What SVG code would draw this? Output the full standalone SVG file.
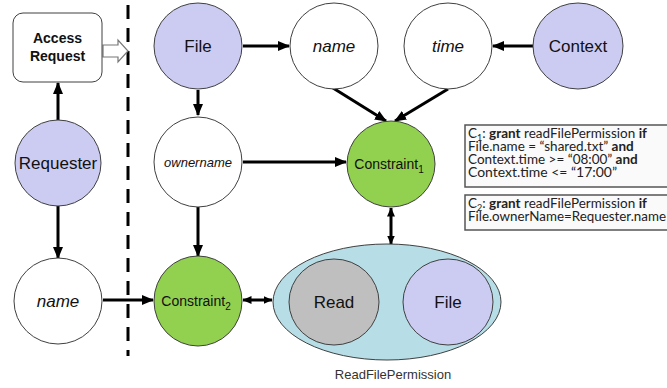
<svg xmlns="http://www.w3.org/2000/svg" width="667" height="388" viewBox="0 0 667 388">
<defs>
<marker id="ah" markerUnits="userSpaceOnUse" markerWidth="12" markerHeight="12" viewBox="0 0 12 12" refX="11" refY="6" orient="auto-start-reverse">
<path d="M0,1 L12,6 L0,11 Z" fill="#000"/>
</marker>
<marker id="ahs" markerUnits="userSpaceOnUse" markerWidth="9" markerHeight="9" viewBox="0 0 9 9" refX="8.5" refY="4.5" orient="auto-start-reverse">
<path d="M0,0.5 L9,4.5 L0,8.5 Z" fill="#000"/>
</marker>
<style>
.n{stroke:#404040;stroke-width:1}
.w{fill:#fff}
.lav{fill:#ccccf2}
.grn{fill:#92d050}
.gry{fill:#bfbfbf}
.tl{font-family:"Liberation Sans",Arial,sans-serif;font-size:17px;fill:#111;text-anchor:middle}
.it{font-style:italic}
.c{font-family:"Liberation Sans",Arial,sans-serif;font-size:14px;fill:#111;text-anchor:middle}
.e{stroke:#000;stroke-width:3;fill:none;marker-end:url(#ah)}
.d{stroke:#000;stroke-width:3;fill:none;marker-end:url(#ahs);marker-start:url(#ahs)}
.box{fill:#fafafa;stroke:#555;stroke-width:1.5}
.bt{font-family:Lato,"Open Sans",sans-serif;font-size:13.5px;fill:#222}
.b{font-weight:bold}
</style>
</defs>
<line x1="128" y1="5" x2="128" y2="356" stroke="#000" stroke-width="3" stroke-dasharray="14,9"/>
<g id="connectors">
<line class="e" x1="58" y1="120" x2="58" y2="83"/>
<line class="e" x1="58" y1="206" x2="58" y2="258"/>
<line class="e" x1="243" y1="46" x2="289" y2="46"/>
<line class="e" x1="533" y1="46" x2="493" y2="46"/>
<line class="e" x1="198" y1="90" x2="198" y2="115"/>
<line class="e" x1="333" y1="88" x2="386" y2="121"/>
<line class="e" x1="448" y1="89" x2="395" y2="121"/>
<line class="e" x1="243" y1="162" x2="346" y2="162"/>
<line class="e" x1="198" y1="207" x2="198" y2="256"/>
<line class="e" x1="103" y1="300" x2="153" y2="300"/>
<line class="d" x1="391" y1="208" x2="391" y2="244"/>
<line class="d" x1="243" y1="300" x2="272" y2="300"/>
<line class="d" x1="379" y1="300" x2="402" y2="300"/>
<path d="M103,45 L118,45 L118,40 L128,51 L118,62 L118,57 L103,57 Z" fill="#fff" stroke="#777" stroke-width="1.2"/>
</g>
<g id="access-request">
<rect x="13" y="13" width="89" height="69" rx="10" fill="#fff" stroke="#404040" stroke-width="1"/>
<text x="57.5" y="43" class="tl b" style="font-size:14px">Access</text>
<text x="57.5" y="61" class="tl b" style="font-size:14px">Request</text>
</g>
<g id="requester">
<ellipse cx="58" cy="163" rx="43" ry="43" class="n lav"/>
<text x="58" y="169" class="tl">Requester</text>
</g>
<g id="name-req">
<ellipse cx="58" cy="301" rx="44" ry="43" class="n w"/>
<text x="58" y="307" class="tl it">name</text>
</g>
<g id="file-top">
<ellipse cx="198" cy="46" rx="44" ry="43" class="n lav"/>
<text x="198" y="52" class="tl">File</text>
</g>
<g id="name-file">
<ellipse cx="334" cy="46" rx="44" ry="43" class="n w"/>
<text x="334" y="52" class="tl it">name</text>
</g>
<g id="time">
<ellipse cx="448" cy="46" rx="44" ry="43" class="n w"/>
<text x="448" y="52" class="tl it">time</text>
</g>
<g id="context">
<ellipse cx="578" cy="46" rx="45" ry="43" class="n lav"/>
<text x="578" y="52" class="tl">Context</text>
</g>
<g id="ownername">
<ellipse cx="198" cy="162" rx="44" ry="45" class="n w"/>
<text x="198" y="167" class="c it" style="font-size:13px">ownername</text>
</g>
<g id="constraint1">
<ellipse cx="391" cy="164" rx="44" ry="43" class="n grn"/>
<text x="389" y="169" class="c">Constraint<tspan font-size="10" baseline-shift="-4">1</tspan></text>
</g>
<g id="constraint2">
<ellipse cx="198" cy="301" rx="44" ry="45" class="n grn"/>
<text x="196" y="306" class="c">Constraint<tspan font-size="10" baseline-shift="-4">2</tspan></text>
</g>
<g id="readfilepermission">
<ellipse cx="387" cy="302" rx="114" ry="58" fill="#b7dde6" stroke="#404040" stroke-width="1"/>
<text x="393" y="379" class="c" style="font-size:13px;fill:#333">ReadFilePermission</text>
</g>
<g id="read">
<ellipse cx="334" cy="302" rx="45" ry="43" class="n gry"/>
<text x="334" y="308" class="tl">Read</text>
</g>
<g id="file-bottom">
<ellipse cx="448" cy="302" rx="45" ry="43" class="n lav"/>
<text x="448" y="308" class="tl">File</text>
</g>
<g id="c1">
<rect x="465" y="125" width="203" height="62" class="box"/>
<text class="bt" x="468" y="138">C<tspan font-size="9" baseline-shift="-3">1</tspan>: <tspan class="b">grant</tspan> readFilePermission <tspan class="b">if</tspan></text>
<text class="bt" x="468" y="151">File.name = “shared.txt” <tspan class="b">and</tspan></text>
<text class="bt" x="468" y="164">Context.time &gt;= “08:00” <tspan class="b">and</tspan></text>
<text class="bt" x="468" y="177" textLength="149" lengthAdjust="spacingAndGlyphs">Context.time &lt;= “17:00”</text>
</g>
<g id="c2">
<rect x="465" y="195" width="203" height="35" class="box"/>
<text class="bt" x="468" y="208">C<tspan font-size="9" baseline-shift="-3">2</tspan>:  <tspan class="b">grant</tspan> readFilePermission <tspan class="b">if</tspan></text>
<text class="bt" x="468" y="221" textLength="198" lengthAdjust="spacingAndGlyphs">File.ownerName=Requester.name</text>
</g>
</svg>
